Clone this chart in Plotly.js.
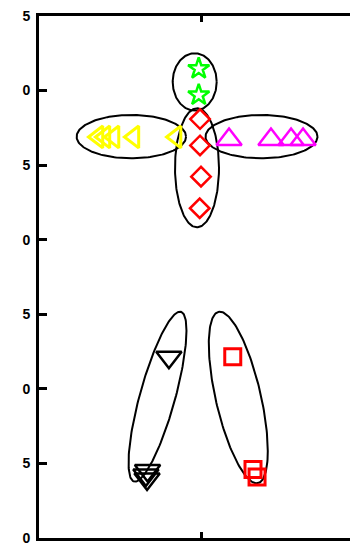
<!DOCTYPE html>
<html>
<head>
<meta charset="utf-8">
<script src="https://cdn.plot.ly/plotly-3.0.1.min.js"></script>
<style>
  html, body { margin: 0; padding: 0; background: #fff; overflow: hidden; }
  #chart { width: 380px; height: 570px; }
</style>
</head>
<body>
<div id="chart"></div>
<script>
// Point groups
const starX = [-0.014, -0.014];
const starY = [31.47, 29.70];

const diamondX = [-0.006, -0.006, 0.000, -0.008];
const diamondY = [28.09, 26.32, 24.23, 22.11];

const triLeftX = [-0.636, -0.593, -0.537, -0.414, -0.154];
const triLeftY = [26.89, 26.89, 26.89, 26.89, 26.89];

const triUpX = [0.173, 0.432, 0.556, 0.630];
const triUpY = [26.72, 26.72, 26.72, 26.72];

const triDownX = [-0.198, -0.330, -0.340, -0.333];
const triDownY = [12.12, 4.53, 4.22, 3.96];

const squareX = [0.196, 0.321, 0.346];
const squareY = [12.16, 4.59, 4.09];

// Ellipses: centre, spread along x and y, correlation
const ellCx  = [-0.0389, -0.0247, -0.430, 0.3735, -0.2685, 0.2302];
const ellCy  = [30.58, 24.82, 26.91, 26.91, 9.474, 9.421];
const ellSx  = [0.1358, 0.1358, 0.3377, 0.3457, 0.1789, 0.1821];
const ellSy  = [1.924, 3.990, 1.455, 1.455, 5.700, 5.753];
const ellRho = [0, 0, 0, 0, 0.776, -0.623];

// Axis ticks
const xTickVals = [-1, 0, 1];
const yTickVals = [0, 5, 10, 15, 20, 25, 30, 35];
const yTickText = ['0', '5', '0', '5', '0', '5', '0', '5'];

function ellipseTrace(i) {
  const xs = [], ys = [];
  const k = Math.sqrt(1 - ellRho[i] * ellRho[i]);
  for (let s = 0; s <= 180; s++) {
    const t = (s / 180) * 2 * Math.PI;
    xs.push(ellCx[i] + ellSx[i] * Math.cos(t));
    ys.push(ellCy[i] + ellSy[i] * (ellRho[i] * Math.cos(t) + k * Math.sin(t)));
  }
  return {
    x: xs, y: ys, type: 'scatter', mode: 'lines',
    line: { color: '#000000', width: 2 },
    hoverinfo: 'skip', showlegend: false
  };
}

function pointTrace(x, y, symbol, color, size, lw) {
  return {
    x: x, y: y, type: 'scatter', mode: 'markers',
    marker: { symbol: symbol, size: size, color: color,
              line: { color: color, width: lw } },
    showlegend: false
  };
}

const traces = [];
for (let i = 0; i < ellCx.length; i++) traces.push(ellipseTrace(i));
traces.push(pointTrace(starX, starY, 'star-open', '#00ff00', 16, 2.5));
traces.push(pointTrace(diamondX, diamondY, 'diamond-open', '#ff0000', 15, 2.5));
traces.push(pointTrace(triLeftX, triLeftY, 'triangle-left-open', '#ffff00', 19, 3));
traces.push(pointTrace(triUpX, triUpY, 'triangle-up-open', '#ff00ff', 22, 2.5));
traces.push(pointTrace(triDownX, triDownY, 'triangle-down-open', '#000000', 22, 2.5));
traces.push(pointTrace(squareX, squareY, 'square-open', '#ff0000', 16, 3));

const layout = {
  width: 380, height: 570,
  margin: { l: 39, r: 17, t: 16, b: 32 },
  paper_bgcolor: '#ffffff', plot_bgcolor: '#ffffff',
  showlegend: false,
  xaxis: {
    range: [-1, 1], tickvals: xTickVals, showticklabels: false,
    ticks: 'inside', ticklen: 6, tickwidth: 3, tickcolor: '#000',
    showline: true, linewidth: 3, linecolor: '#000', mirror: 'ticks',
    showgrid: false, zeroline: false
  },
  yaxis: {
    range: [0, 35], tickvals: yTickVals, ticktext: yTickText,
    ticks: 'inside', ticklen: 8, tickwidth: 3, tickcolor: '#000',
    showline: true, linewidth: 3, linecolor: '#000', mirror: 'ticks',
    showgrid: false, zeroline: false, ticklabelstandoff: 3,
    tickfont: { family: 'Liberation Sans', size: 14, weight: 'bold', color: '#000' }
  }
};

Plotly.newPlot('chart', traces, layout, { staticPlot: true, displayModeBar: false });
</script>
</body>
</html>
